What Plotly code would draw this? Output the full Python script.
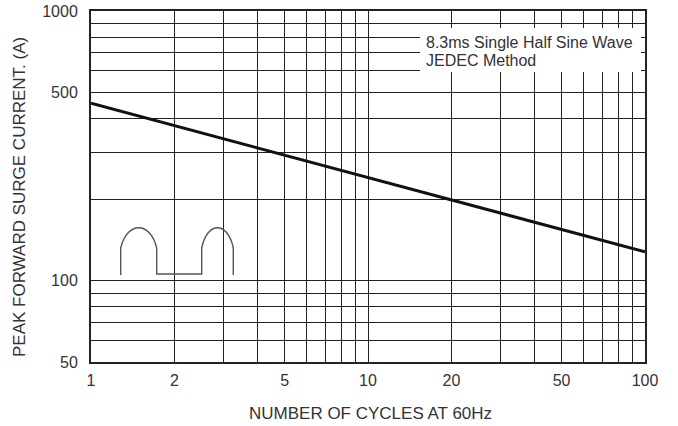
import plotly.graph_objects as go

# ---- data ----
cycles = [1, 100]
surge_current = [455, 128]

x_grid_vals = [1, 2, 3, 4, 5, 6, 7, 8, 9, 10, 20, 30, 40, 50, 60, 70, 80, 90, 100]
x_grid_text = ["1", "2", "", "", "5", "", "", "", "", "10", "20", "", "", "50", "", "", "", "", "100"]
y_grid_vals = [50, 60, 70, 80, 90, 100, 200, 300, 400, 500, 600, 700, 800, 900, 1000]
y_grid_text = ["50", "", "", "", "", "100", "", "", "", "500", "", "", "", "", "1000"]

x_title = "NUMBER OF CYCLES AT 60Hz"
y_title = "PEAK FORWARD SURGE CURRENT. (A)"
note_lines = ["8.3ms Single Half Sine Wave", "JEDEC Method"]

# ---- layout geometry ----
W, H = 678, 426
L, R, T, B = 91, 33, 11, 64
PW, PH = W - L - R, H - T - B


def fx(px):
    return (px - L) / PW


def fy(py):
    return (H - B - py) / PH


FONT = "Liberation Sans, Arial, sans-serif"
TXT = "#333333"
GRID = "#222222"

fig = go.Figure()
fig.add_trace(go.Scatter(x=cycles, y=surge_current, mode="lines",
                         line=dict(color="#111111", width=3), showlegend=False,
                         hoverinfo="skip"))

axis_common = dict(showgrid=True, gridcolor=GRID, gridwidth=1,
                   showline=True, linecolor=GRID, linewidth=2, mirror=True,
                   ticks="", tickfont=dict(family=FONT, size=16, color=TXT),
                   zeroline=False, tickmode="array")

fig.update_xaxes(type="log", range=[0, 2], tickvals=x_grid_vals, ticktext=x_grid_text,
                 ticklabelstandoff=3, **axis_common)
fig.update_yaxes(type="log", range=[1.69897, 3], tickvals=y_grid_vals, ticktext=y_grid_text,
                 ticklabelstandoff=8, **axis_common)

# white box behind the note
fig.add_shape(type="rect", xref="paper", yref="paper",
              x0=fx(420), x1=fx(641), y0=fy(72), y1=fy(28),
              fillcolor="white", line=dict(width=0), layer="above")

# half-sine waveform icon
def hump(x0, x1, base, peak):
    w = x1 - x0
    c = base - (base - peak) * 4 / 3
    return (f"L{fx(x0)},{fy(base)} "
            f"C{fx(x0 + 0.18 * w)},{fy(c)} {fx(x1 - 0.18 * w)},{fy(c)} {fx(x1)},{fy(base)} ")

path = (f"M{fx(120.7)},{fy(275)} " + hump(120.7, 156.7, 248, 227.7) +
        f"L{fx(156.7)},{fy(274)} L{fx(201.7)},{fy(274)} " + hump(201.7, 233.3, 248, 227.7) +
        f"L{fx(233.3)},{fy(275)}")
fig.add_shape(type="path", xref="paper", yref="paper", path=path,
              line=dict(color="#555555", width=1.4), layer="above")

for i, txt in enumerate(note_lines):
    fig.add_annotation(text=txt, xref="paper", yref="paper",
                       x=fx(424), y=fy(42.5 + 18 * i), xanchor="left", yanchor="middle",
                       showarrow=False, font=dict(family=FONT, size=16, color=TXT))

fig.add_annotation(text=x_title, xref="paper", yref="paper", x=fx(370), y=fy(413),
                   xanchor="center", yanchor="middle", showarrow=False,
                   font=dict(family=FONT, size=17, color=TXT))
fig.add_annotation(text=y_title, xref="paper", yref="paper", x=fx(19), y=fy(197),
                   xanchor="center", yanchor="middle", textangle=-90, showarrow=False,
                   font=dict(family=FONT, size=17, color=TXT))

fig.update_layout(width=W, height=H, margin=dict(l=L, r=R, t=T, b=B, autoexpand=False),
                  paper_bgcolor="white", plot_bgcolor="white", showlegend=False)

fig.write_html("out.html", config={"displayModeBar": False, "staticPlot": True},
               post_script="document.body.style.margin='0';document.body.style.overflow='hidden';")
